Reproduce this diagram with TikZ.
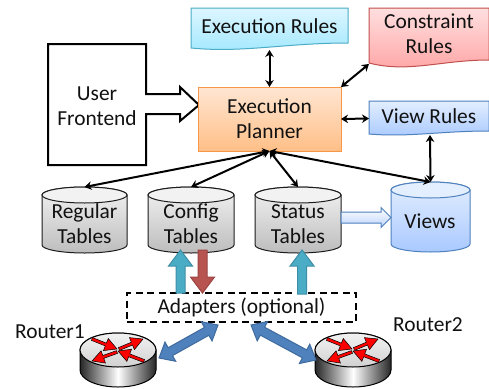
\documentclass[tikz,border=0pt]{standalone}
\usepackage{fontspec}
\setmainfont{Carlito}
\usetikzlibrary{arrows.meta,calc}
\definecolor{inkc}{HTML}{111111}
\definecolor{teal1}{HTML}{4BACC6}\definecolor{teal2}{HTML}{3E8FA6}
\definecolor{red1}{HTML}{B85450}\definecolor{red2}{HTML}{9C4441}
\definecolor{blue1}{HTML}{4F81BD}\definecolor{blue2}{HTML}{3F6A9E}
\definecolor{viewb}{HTML}{BCD3FA}
\definecolor{orangetop}{HTML}{FFE6D3}\definecolor{orangebot}{HTML}{FFBF87}\definecolor{orangeln}{HTML}{F79646}
\definecolor{rulesln}{HTML}{4BACC6}\definecolor{rulesT}{HTML}{DDF6FF}\definecolor{rulesB}{HTML}{A2E8FF}
\definecolor{conln}{HTML}{C0504D}\definecolor{conT}{HTML}{FFDFDF}\definecolor{conB}{HTML}{FFA3A3}
\definecolor{vrT}{HTML}{E3EEFF}\definecolor{vrB}{HTML}{A9C9FF}
\definecolor{cylT}{HTML}{F2F2F2}\definecolor{cylB}{HTML}{BDBDBD}
\definecolor{cylL}{HTML}{1C1C1C}
\tikzset{
  lbl/.style={align=center,inner sep=0pt,text=inkc,font=\fontsize{21.4}{25}\selectfont},
  anchorbox/.style={inner sep=0pt,outer sep=0pt},
  link/.style={line width=2pt,draw=black,{Stealth[length=7pt,width=8.5pt]}-{Stealth[length=7pt,width=8.5pt]}},
  tealarrow/.style={fill=teal1,draw=teal2,line width=1pt},
  redarrow/.style={fill=red1,draw=red2,line width=1pt},
  bluearrow/.style={fill=blue1,draw=blue2,line width=1pt},
  viewarrow/.style={top color=white,bottom color=viewb,draw=blue1,line width=1pt},
  routerarrow/.style={fill=red,draw=black,line width=.5pt},
}
% doc shape: x1,y1,x2,yleft,yright,dip,border,top,bottom
\newcommand{\docshape}[9]{%
  \path[draw=#7,line width=1pt,top color=#8,bottom color=#9]
    (#1,#2) -- (#3,#2) -- (#3,#5)
    .. controls ({#1+.6*(#3-#1)},#5) and ({#1+.33*(#3-#1)},{#4+1.7*#6}) .. (#1,#4) -- cycle;}
% cylinder: name,x1,x2,ytop,ybot,ry,border,c1,c2
\newcommand{\dbcyl}[9]{%
  \path[draw=#7,line width=1pt,top color=#8,bottom color=#9]
    (#2,#4) -- (#2,#5) arc[start angle=180,end angle=0,x radius={(#3-#2)/2},y radius=#6]
    -- (#3,#4) arc[start angle=0,end angle=-180,x radius={(#3-#2)/2},y radius=#6] -- cycle;
  \path[draw=#7,line width=1pt,fill=#8]
    ({(#2+#3)/2},#4) ellipse[x radius={(#3-#2)/2},y radius=#6];
  \node[anchorbox,minimum width={#3-#2},minimum height=0pt] (#1) at ({(#2+#3)/2},{#4-#6}) {};}
% fat arrow: from,to,half shaft,half head,head length,style
\newcommand{\fatarrow}[6]{%
  \path[#6] ($(#1)!#3!90:(#2)$) -- ($(#2)!#5!(#1)!#3!90:(#2)$) -- ($(#2)!#5!(#1)!#4!90:(#2)$) -- (#2)
    -- ($(#2)!#5!(#1)!#4!-90:(#2)$) -- ($(#2)!#5!(#1)!#3!-90:(#2)$) -- ($(#1)!#3!-90:(#2)$) -- cycle;}
\newcommand{\dblarrow}[6]{%
  \path[#6] (#1) -- ($(#1)!#5!(#2)!#4!90:(#2)$) -- ($(#1)!#5!(#2)!#3!90:(#2)$)
    -- ($(#2)!#5!(#1)!#3!90:(#2)$) -- ($(#2)!#5!(#1)!#4!90:(#2)$) -- (#2)
    -- ($(#2)!#5!(#1)!#4!-90:(#2)$) -- ($(#2)!#5!(#1)!#3!-90:(#2)$)
    -- ($(#1)!#5!(#2)!#3!-90:(#2)$) -- ($(#1)!#5!(#2)!#4!-90:(#2)$) -- cycle;}
\newcommand{\routerbody}[2]{%
  \path[draw=black,line width=1pt,left color=black!85,right color=black!85,middle color=white]
    ({#1-38},#2) -- ({#1-38},{#2+20}) arc[start angle=180,end angle=0,x radius=38,y radius=17]
    -- ({#1+38},#2) arc[start angle=0,end angle=-180,x radius=38,y radius=17] -- cycle;
  \path[draw=black,line width=1pt,top color=black!5,bottom color=black!18]
    (#1,#2) ellipse[x radius=38,y radius=17];
  \begin{scope}[shift={(#1,#2)}]
    \coordinate (ra) at (-26,-11); \coordinate (rb) at (-1,-1);
    \coordinate (rc) at (1,-1);    \coordinate (rd) at (25,-11);
    \coordinate (re) at (26,11);   \coordinate (rf) at (0,1);
    \coordinate (rg) at (-1,2);    \coordinate (rh) at (-26,11);
    \fatarrow{ra}{rb}{1.5pt}{6.5pt}{12pt}{routerarrow}
    \fatarrow{rc}{rd}{1.5pt}{6.5pt}{12pt}{routerarrow}
    \fatarrow{re}{rf}{1.5pt}{6.5pt}{12pt}{routerarrow}
    \fatarrow{rg}{rh}{1.5pt}{6.5pt}{12pt}{routerarrow}
  \end{scope}}
\begin{document}
\begin{tikzpicture}[x=1pt,y=-1pt]
\useasboundingbox[fill=white] (0,0) rectangle (489,388);
% frontend
\path[draw=black,line width=2pt,fill=white,line join=miter]
  (48,44) -- (146,44) -- (146,94) -- (180,94) -- (180,87) -- (199,105) -- (180,121)
  -- (180,114) -- (146,114) -- (146,165) -- (48,165) -- cycle;
\node[lbl] (frontend) at (97,106) {User\\Frontend};
% planner
\node[minimum width=143pt,minimum height=64pt,draw=orangeln,line width=1pt,top color=orangetop,bottom color=orangebot,lbl,outer sep=0pt] (planner) at (269.5,119) {Execution\\Planner};
% rule documents
\docshape{191}{8}{348}{48}{43}{3}{rulesln}{rulesT}{rulesB}
\node[lbl] (execrules) at (269.5,26) {Execution Rules};
\coordinate (execrulesS) at (269.5,50);
\docshape{369}{8}{489}{63}{60}{6}{conln}{conT}{conB}
\node[lbl] (constraint) at (429,34) {Constraint\\Rules};
\coordinate (constraintW) at (369,64);
\docshape{369}{101}{489}{134}{131}{2}{blue1}{vrT}{vrB}
\node[lbl] (viewrules) at (429,116) {View Rules};
\coordinate (viewrulesW) at (369,118.5);
\coordinate (viewrulesS) at (430,135);
% cylinders
\dbcyl{regular}{42}{127}{195}{245}{8}{cylL}{cylT}{cylB}
\node[lbl] (regularT) at (84.5,224) {Regular\\Tables};
\dbcyl{config}{148}{234}{195}{245}{8}{cylL}{cylT}{cylB}
\node[lbl] (configT) at (191,224) {Config\\Tables};
\dbcyl{status}{255}{341}{195}{245}{8}{cylL}{cylT}{cylB}
\node[lbl] (statusT) at (298,224) {Status\\Tables};
\dbcyl{views}{391}{470}{190}{244}{8}{blue1}{vrT}{vrB}
\node[lbl] (viewsT) at (430,221) {Views};
% thin connectors
\coordinate (hub) at (planner.south);
\draw[link] (execrulesS) -- (planner.north);
\draw[link] (constraintW) -- (planner.north east);
\draw[link] (viewrulesW) -- (planner.east);
\draw[link] (viewrulesS) -- (views.north);
\draw[link] (hub) -- (regular.north);
\draw[link] (hub) -- (config.north);
\draw[link] (hub) -- (status.north);
\draw[link] (hub) -- (views.north);
% adapters
\node[draw=black,dash pattern=on 7pt off 4.5pt,line width=1.7pt,minimum width=229pt,minimum height=29pt,inner sep=0pt,outer sep=0pt,lbl] (adapters) at (241.5,307.5) {Adapters (optional)};
% fat arrows
\coordinate (sv1) at (341,217.5); \coordinate (sv2) at (391,217.5);
\fatarrow{sv1}{sv2}{5.5pt}{10pt}{10pt}{viewarrow}
\coordinate (ca1) at (180.5,293); \coordinate (ca2) at (180.5,250);
\fatarrow{ca1}{ca2}{4.5pt}{12pt}{16pt}{tealarrow}
\coordinate (cb1) at (202.5,250); \coordinate (cb2) at (202.5,293);
\fatarrow{cb1}{cb2}{4.5pt}{12pt}{16pt}{redarrow}
\coordinate (sa1) at (302,294); \coordinate (sa2) at (302,250);
\fatarrow{sa1}{sa2}{4.5pt}{12pt}{16pt}{tealarrow}
% routers
\routerbody{118}{350}
\routerbody{353}{350}
\node[lbl,anchor=west] (router1) at (15,332) {Router1};
\node[lbl,anchor=west] (router2) at (393,325) {Router2};
\coordinate (r1a) at (159,358); \coordinate (r1b) at (218,325);
\dblarrow{r1a}{r1b}{4.5pt}{11pt}{13pt}{bluearrow}
\coordinate (r2a) at (316,360); \coordinate (r2b) at (251,325);
\dblarrow{r2a}{r2b}{4.5pt}{11pt}{13pt}{bluearrow}
\end{tikzpicture}
\end{document}
